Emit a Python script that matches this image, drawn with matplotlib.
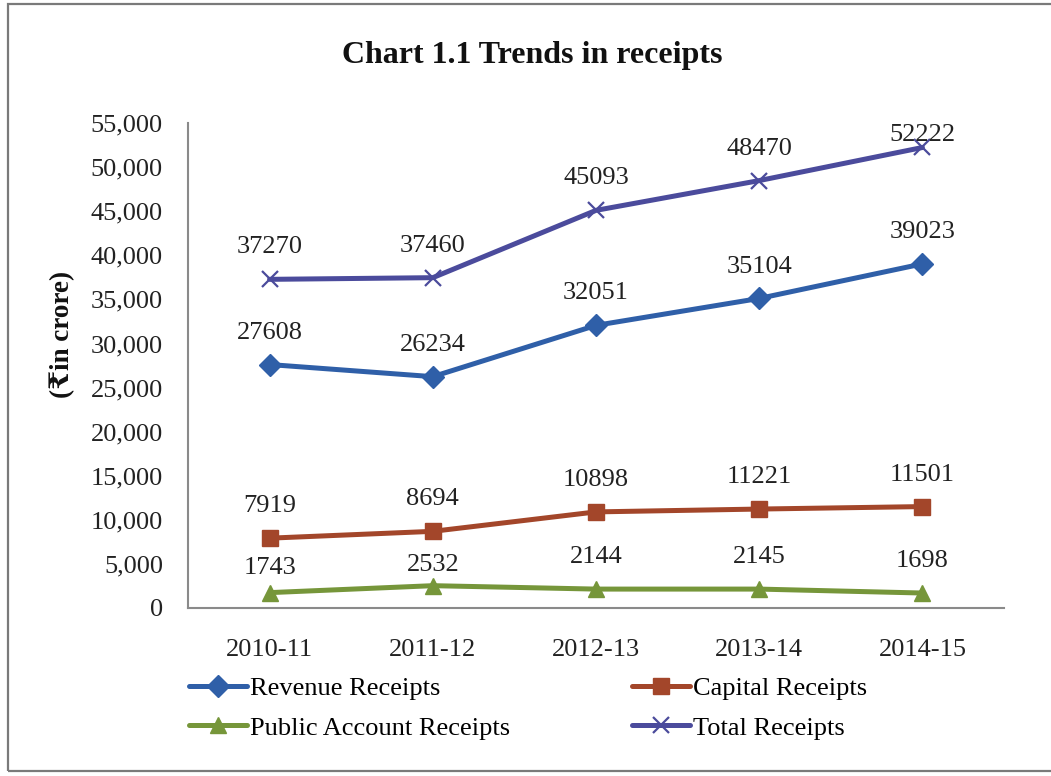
import matplotlib
matplotlib.use("Agg")
import matplotlib.pyplot as plt
from matplotlib.patches import Rectangle

# Financial years and receipts (in crore)
years = ["2010-11", "2011-12", "2012-13", "2013-14", "2014-15"]
revenue_receipts = [27608, 26234, 32051, 35104, 39023]
capital_receipts = [7919, 8694, 10898, 11221, 11501]
public_account_receipts = [1743, 2532, 2144, 2145, 1698]
total_receipts = [37270, 37460, 45093, 48470, 52222]

FONT = ["Liberation Serif", "DejaVu Serif", "DejaVu Sans"]
plt.rcParams["font.family"] = FONT
FS = 19

W, H = 1051, 776
fig = plt.figure(figsize=(W / 100, H / 100), dpi=100)
fig.patch.set_facecolor("white")

# outer frame of the chart
fig.add_artist(Rectangle((8 / W, 1 - 771 / H), 1.2, (771 - 4) / H,
                         transform=fig.transFigure, fill=False,
                         edgecolor="#7a7a7a", linewidth=1.6))

ax = fig.add_axes([188 / W, 1 - 608 / H, (1004 - 188) / W, (608 - 123) / H])

x = list(range(len(years)))
series = [
    ("Revenue Receipts", revenue_receipts, "#2f5fa8", "D", 11, 1.0),
    ("Capital Receipts", capital_receipts, "#a3462a", "s", 11, 1.0),
    ("Public Account Receipts", public_account_receipts, "#76963a", "^", 12, 1.0),
    ("Total Receipts", total_receipts, "#4b4b9c", "x", 12, 1.6),
]

handles = {}
for name, vals, col, mk, ms, mew in series:
    (ln,) = ax.plot(x, vals, color=col, linewidth=3.6, marker=mk,
                    markersize=ms, markeredgewidth=mew,
                    markerfacecolor=col, markeredgecolor=col, label=name,
                    solid_capstyle="round", zorder=3)
    handles[name] = ln

# data labels above each point
label_offsets = {("Public Account Receipts", 0): 18,
                 ("Public Account Receipts", 1): 15,
                 ("Total Receipts", 4): 9}
for name, vals, col, mk, ms, mew in series:
    for i, v in enumerate(vals):
        off = label_offsets.get((name, i), 23)
        ax.annotate(f"{v}", (i, v), xytext=(0, off), textcoords="offset points",
                    ha="center", va="center", fontsize=FS, color="#222222",
                    zorder=4)

ax.set_xlim(-0.5, 4.5)
ax.set_ylim(0, 55000)
ax.set_yticks(range(0, 55001, 5000))
ax.set_yticklabels([f"{t:,}" for t in range(0, 55001, 5000)])
ax.set_xticks(x)
ax.set_xticklabels(years)
ax.tick_params(axis="both", length=0, labelsize=FS, colors="#222222")
ax.tick_params(axis="y", pad=18)
ax.tick_params(axis="x", pad=22)

for side in ("top", "right"):
    ax.spines[side].set_visible(False)
for side in ("left", "bottom"):
    ax.spines[side].set_color("#8a8a8a")
    ax.spines[side].set_linewidth(1.5)

fig.text(532 / W, 1 - 55 / H, "Chart 1.1 Trends in receipts",
         ha="center", va="center", fontsize=23, fontweight="bold",
         color="#111111")
fig.text(62 / W, 1 - 334 / H, "(₹in crore)", ha="center", va="center",
         rotation=90, fontsize=19.5, fontweight="bold", color="#111111")

# legend fills column-wise: left column Revenue/Public, right Capital/Total
order = ["Revenue Receipts", "Public Account Receipts",
         "Capital Receipts", "Total Receipts"]
fig.legend(handles=[handles[n] for n in order], labels=order, loc="center",
           bbox_to_anchor=(528 / W, 1 - 708 / H), ncol=2, frameon=False,
           fontsize=FS, handlelength=2.2, handletextpad=0.1,
           columnspacing=4.65, labelspacing=0.62, borderpad=0.2)

fig.savefig("out.png", dpi=100, facecolor="white")
